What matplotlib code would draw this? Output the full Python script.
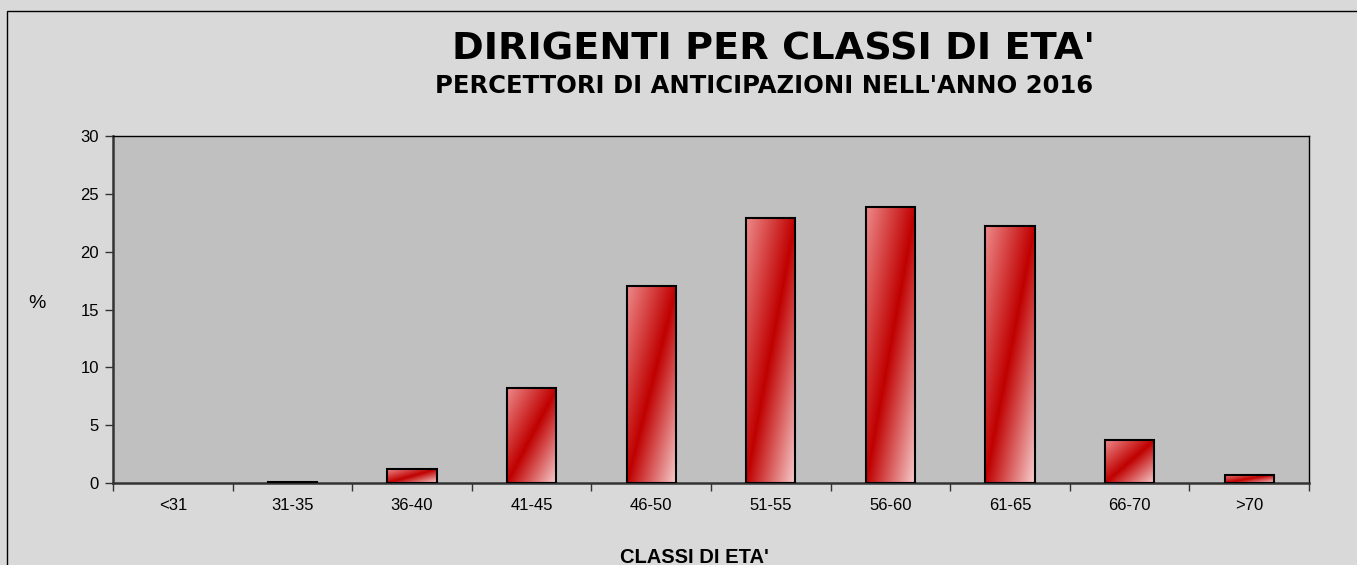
import numpy as np
import matplotlib
matplotlib.use("Agg")
import matplotlib.pyplot as plt
from matplotlib.colors import LinearSegmentedColormap
from matplotlib.patches import Rectangle

categories = ["<31", "31-35", "36-40", "41-45", "46-50", "51-55", "56-60", "61-65", "66-70", ">70"]
values = [0.0, 0.1, 1.2, 8.2, 17.0, 22.9, 23.9, 22.2, 3.7, 0.7]
yticks = [0, 5, 10, 15, 20, 25, 30]

W, H = 1357, 565
fig = plt.figure(figsize=(W / 100, H / 100), dpi=100)
fig.patch.set_facecolor("#D9D9D9")
fig.patches.append(Rectangle((7 / W, -0.1), 1.2, (H - 11) / H + 0.1, transform=fig.transFigure,
                             fill=False, edgecolor="black", linewidth=1.0))

ax = fig.add_axes([113 / W, 1 - 483 / H, (1309 - 113) / W, (483 - 136) / H])
ax.set_facecolor("#C0C0C0")

x = np.arange(len(categories))
bw = 0.41
lws = [1.5 if v > 0 else 0 for v in values]
bars = ax.bar(x, values, width=bw, color="none", edgecolor="black", linewidth=lws, zorder=3)

cmap = LinearSegmentedColormap.from_list("g", [(0.0, "#EE8A8A"), (0.5, "#C00000"), (1.0, "#F8CFCF")])
u = np.linspace(0, 1, 200)
v = np.linspace(0, 1, 200)
U, V = np.meshgrid(u, v)
grad = (U + V) / 2.0  # row 0 = top
for b in bars:
    h = b.get_height()
    if h <= 0:
        continue
    x0 = b.get_x()
    im = ax.imshow(grad, cmap=cmap, vmin=0, vmax=1, extent=(x0, x0 + b.get_width(), 0, h),
                   aspect="auto", origin="upper", zorder=2, interpolation="bilinear")
    im.set_clip_path(b)

ax.set_xlim(-0.5, len(categories) - 0.5)
ax.set_ylim(0, 30)
ax.set_yticks(yticks)
ax.set_yticklabels([str(t) for t in yticks], fontsize=12, family="Liberation Sans")
ax.set_xticks(x)
ax.set_xticklabels(categories, fontsize=12, family="Liberation Sans")
ax.set_xticks(np.arange(len(categories) + 1) - 0.5, minor=True)
ax.tick_params(axis="x", which="major", length=0, pad=11)
ax.tick_params(axis="x", which="minor", length=6, direction="out", width=1, color="#333333")
ax.tick_params(axis="y", length=6, direction="out", width=1, color="#333333", pad=4)
for s in ["left", "bottom"]:
    ax.spines[s].set_color("#333333")
    ax.spines[s].set_linewidth(1.8)
for s in ["top", "right"]:
    ax.spines[s].set_color("black")
    ax.spines[s].set_linewidth(1.0)

fig.text(774 / W, 1 - 59 / H, "DIRIGENTI PER CLASSI DI ETA'", ha="center", va="baseline",
         fontsize=27.5, fontweight="bold", family="DejaVu Sans")
fig.text(764 / W, 1 - 93 / H, "PERCETTORI DI ANTICIPAZIONI NELL'ANNO 2016", ha="center", va="baseline",
         fontsize=17.5, fontweight="bold", family="DejaVu Sans")
fig.text(37 / W, 1 - 308 / H, "%", ha="center", va="baseline", fontsize=14, family="Liberation Sans")
fig.text(694 / W, 1 - 563 / H, "CLASSI DI ETA'", ha="center", va="baseline", fontsize=14.5,
         fontweight="bold", family="Liberation Sans")

fig.savefig("out.png", dpi=100, facecolor=fig.get_facecolor())
